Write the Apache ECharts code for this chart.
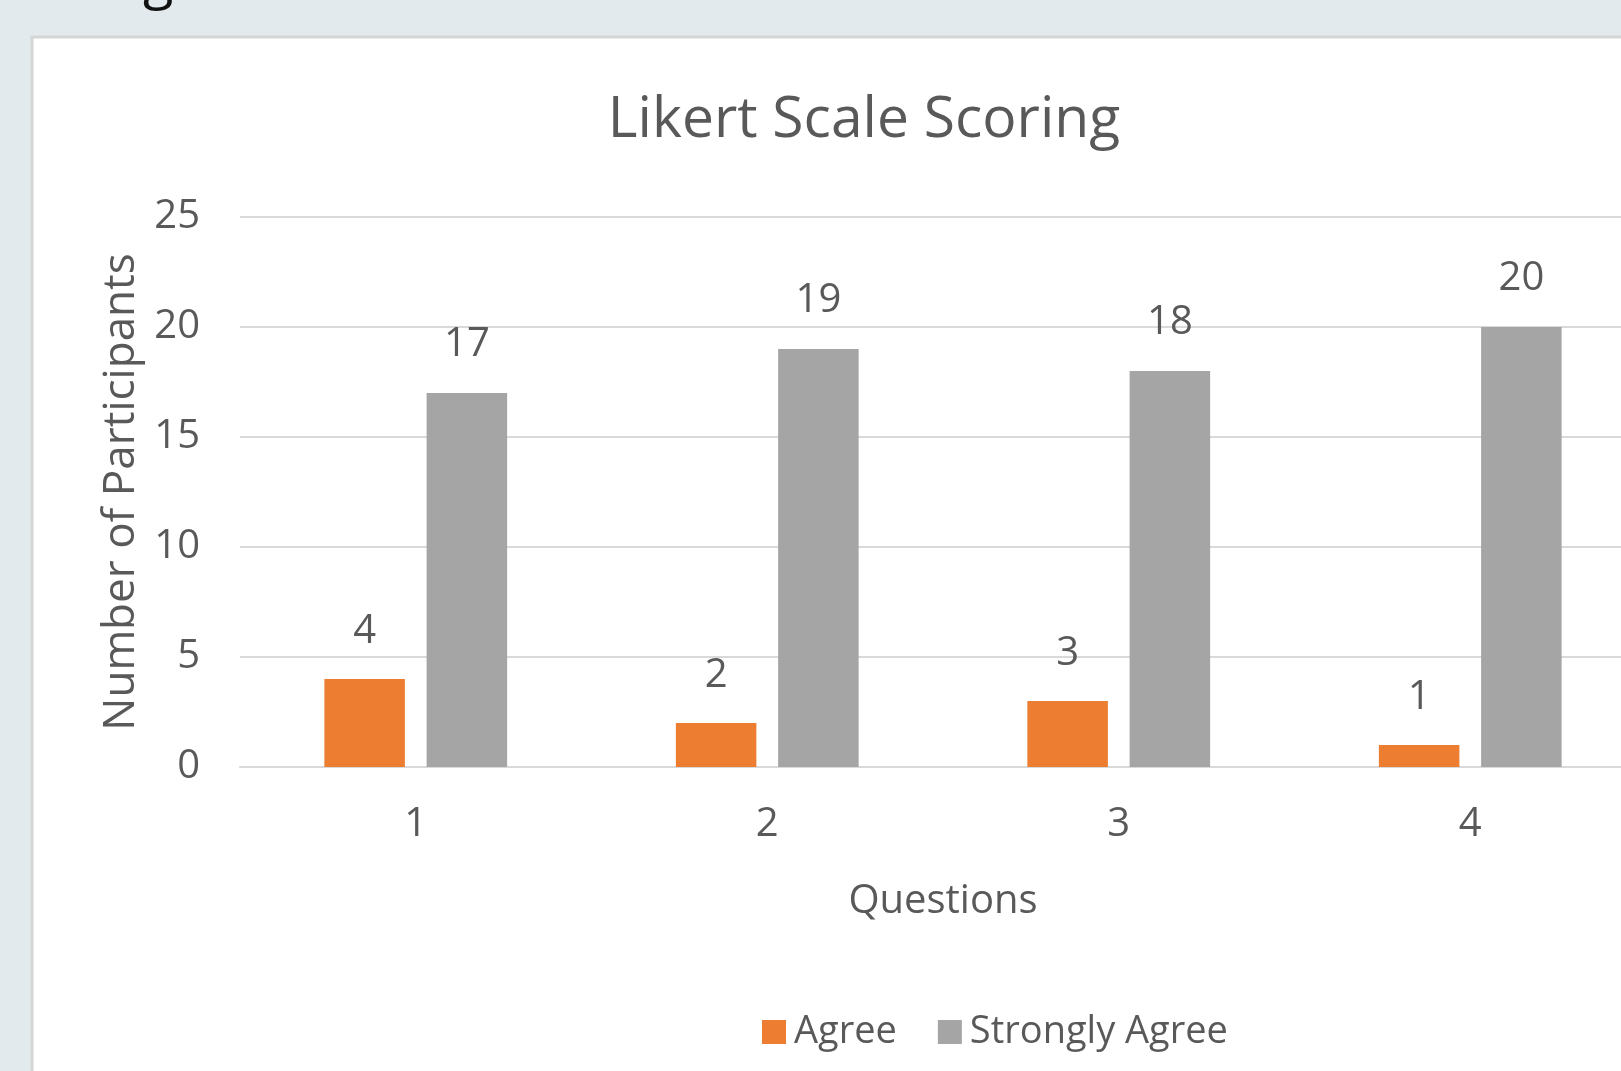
<!DOCTYPE html>
<html>
<head>
<meta charset="utf-8">
<title>Likert Scale Scoring</title>
<script src="https://cdn.jsdelivr.net/npm/echarts@6/dist/echarts.min.js"></script>
<style>
  html, body { margin: 0; padding: 0; overflow: hidden; background: #e2eaed; }
  #chart { width: 1700px; height: 1071px; }
</style>
</head>
<body>
<div id="chart"></div>
<script>
// data
var questions = ['1', '2', '3', '4']
var agree = [4, 2, 3, 1]
var stronglyAgree = [17, 19, 18, 20]
var yTicks = [0, 5, 10, 15, 20, 25]

var FONT = "'Open Sans', 'Noto Sans', sans-serif"
var TEXT = '#595959'
var GRID = '#d9d9d9'

var chart = echarts.init(document.getElementById('chart'))

chart.setOption({
  backgroundColor: '#e2eaed',
  animation: false,
  textStyle: { fontFamily: FONT },
  graphic: [
    // white chart panel, runs off the right and bottom of the page
    {
      type: 'rect',
      z: -10,
      shape: { x: 32, y: 37, width: 1800, height: 1200 },
      style: { fill: '#ffffff', stroke: '#d4d6d6', lineWidth: 3 }
    },
    // tail of a heading above the panel, cut off by the page edge
    {
      type: 'text',
      x: 143,
      y: 9,
      style: {
        text: 'g',
        fill: '#111111',
        font: '56px ' + FONT,
        verticalAlign: 'bottom'
      }
    }
  ],
  title: {
    text: 'Likert Scale Scoring',
    left: 864,
    top: 92,
    padding: 0,
    textAlign: 'center',
    textStyle: { color: TEXT, fontSize: 57, fontWeight: 'normal', fontFamily: FONT }
  },
  legend: {
    left: 762,
    top: 1013,
    padding: 0,
    itemWidth: 24,
    itemHeight: 24,
    itemGap: 41,
    icon: 'rect',
    data: ['Agree', 'Strongly Agree'],
    textStyle: { color: TEXT, fontSize: 38, fontFamily: FONT, padding: [0, 0, 0, 3] }
  },
  grid: {
    left: 240,
    top: 217,
    width: 1406,
    height: 550
  },
  xAxis: {
    type: 'category',
    data: questions,
    name: 'Questions',
    nameLocation: 'middle',
    nameGap: 115,
    nameTextStyle: { color: TEXT, fontSize: 40, fontFamily: FONT },
    axisLine: { lineStyle: { color: GRID, width: 2 } },
    axisTick: { show: false },
    axisLabel: { color: TEXT, fontSize: 40, margin: 38, fontFamily: FONT }
  },
  yAxis: {
    type: 'value',
    min: yTicks[0],
    max: yTicks[yTicks.length - 1],
    interval: yTicks[1] - yTicks[0],
    name: 'Number of Participants',
    nameLocation: 'middle',
    nameGap: 94,
    nameTextStyle: { color: TEXT, fontSize: 44, fontFamily: FONT },
    axisLine: { show: false },
    axisTick: { show: false },
    axisLabel: { color: TEXT, fontSize: 40, margin: 40, fontFamily: FONT },
    splitLine: { lineStyle: { color: GRID, width: 2 } }
  },
  series: [
    {
      name: 'Agree',
      type: 'bar',
      data: agree,
      barGap: '27%',
      barCategoryGap: '48%',
      itemStyle: { color: '#ed7d31' },
      label: { show: true, position: 'top', distance: 27, color: TEXT, fontSize: 40, fontFamily: FONT }
    },
    {
      name: 'Strongly Agree',
      type: 'bar',
      data: stronglyAgree,
      itemStyle: { color: '#a5a5a5' },
      label: { show: true, position: 'top', distance: 28, color: TEXT, fontSize: 40, fontFamily: FONT }
    }
  ]
})
</script>
</body>
</html>
